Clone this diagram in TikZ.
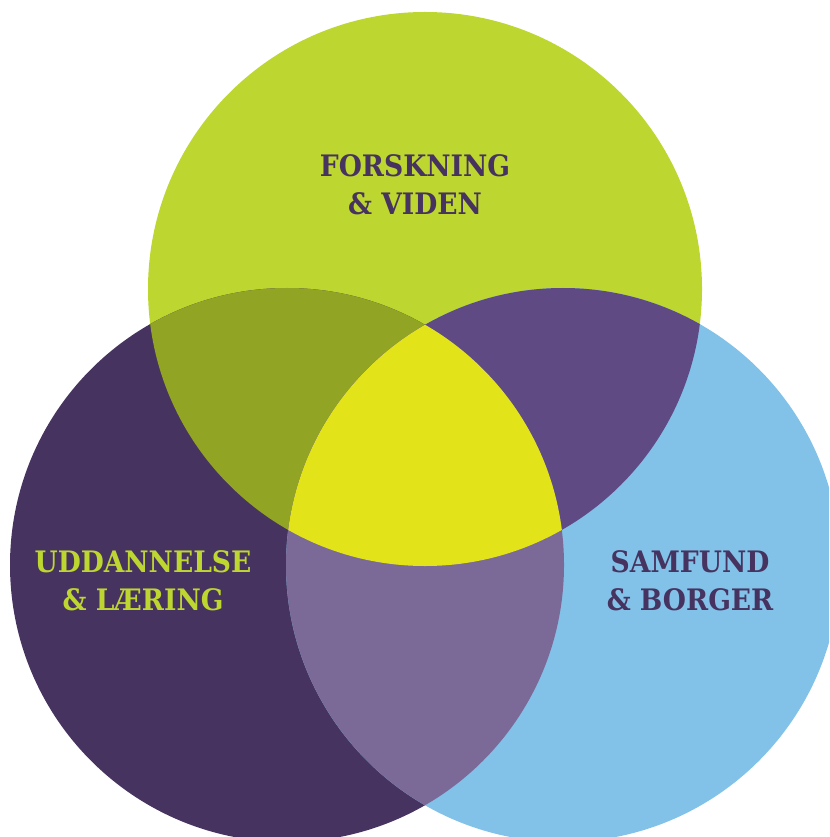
\documentclass[tikz,border=0pt]{standalone}
\usepackage{fontspec}
\newfontfamily\slabfont{DejaVu Serif Condensed}[BoldFont={DejaVu Serif Condensed Bold}]
\definecolor{cgreen}{HTML}{BDD630}
\definecolor{cpurple}{HTML}{463360}
\definecolor{cblue}{HTML}{82C1E8}
\definecolor{cgp}{HTML}{91A423}
\definecolor{cgb}{HTML}{5F4A84}
\definecolor{cpb}{HTML}{7B6A98}
\definecolor{ccenter}{HTML}{E2E318}
\definecolor{ctext}{HTML}{46335F}
\tikzset{
  lbl/.style={inner sep=0pt, align=center, font=\slabfont\bfseries\fontsize{8.4}{10.8}\selectfont},
}
\begin{document}
\begin{tikzpicture}[x=0.01cm,y=-0.01cm]
\useasboundingbox (0,0) rectangle (829,837);
\begin{scope}
\clip (0,0) rectangle (829,837);
\def\CA{(425,289) circle (277)}
\def\CB{(287,565) circle (277)}
\def\CC{(563,565) circle (277)}
\fill[cgreen] \CA;
\fill[cpurple] \CB;
\fill[cblue] \CC;
\begin{scope}\clip \CA; \fill[cgp] \CB; \end{scope}
\begin{scope}\clip \CA; \fill[cgb] \CC; \end{scope}
\begin{scope}\clip \CB; \fill[cpb] \CC; \end{scope}
\begin{scope}\clip \CA; \clip \CB; \fill[ccenter] \CC; \end{scope}
\end{scope}
\node[lbl, text=ctext] (top) at (415,184.5) {FORSKNING\\\& VIDEN};
\node[lbl, text=cgreen] (left) at (143,581) {UDDANNELSE\\\& LÆRING};
\node[lbl, text=ctext] (right) at (690,581) {SAMFUND\\\& BORGER};
\end{tikzpicture}
\end{document}
